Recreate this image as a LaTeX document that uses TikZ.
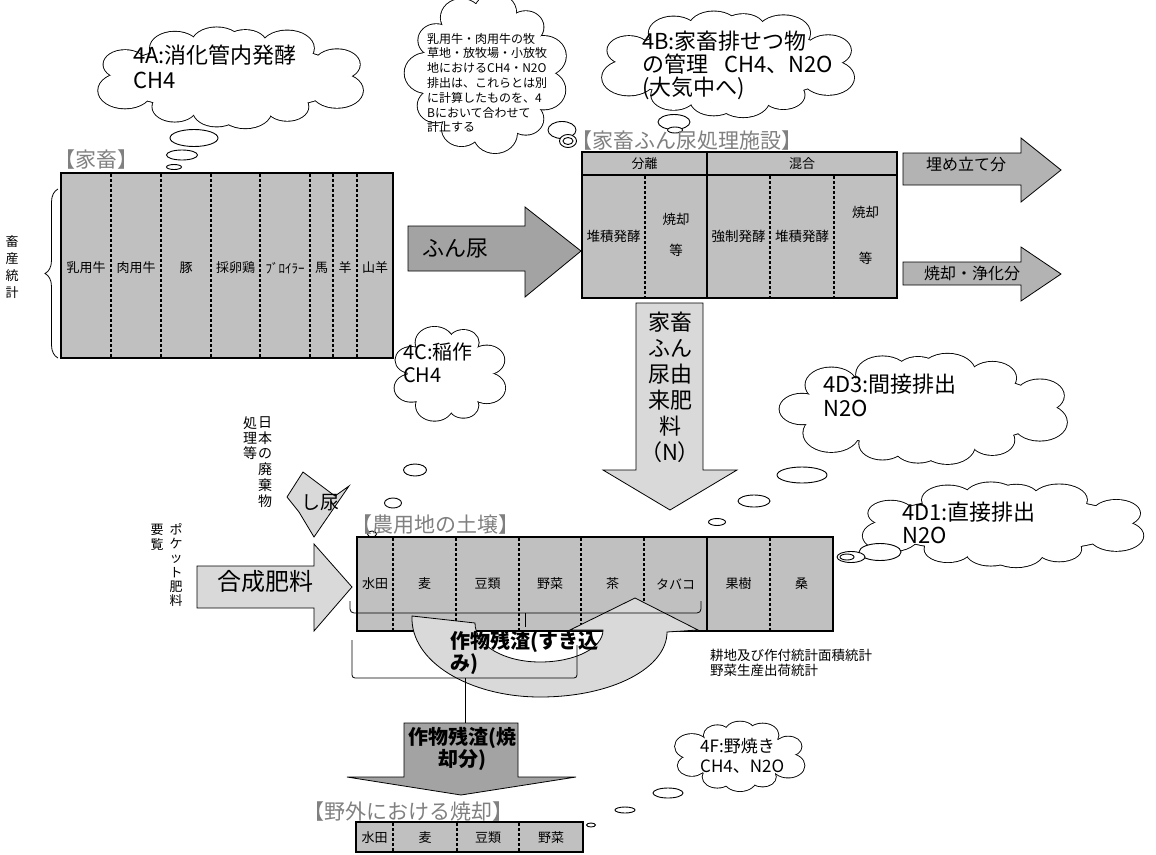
\documentclass[tikz,border=0pt]{standalone}
\usepackage{fontspec}
\setmainfont{Noto Sans CJK JP}
\usetikzlibrary{shapes.geometric,decorations.pathreplacing}
\definecolor{tgray}{HTML}{C0C0C0}
\definecolor{dgray}{HTML}{A3A3A3}
\definecolor{mgray}{HTML}{B3B3B3}
\definecolor{lgray}{HTML}{D9D9D9}
\definecolor{ttlgray}{HTML}{808080}
\newcommand{\jfs}[2]{\fontsize{#1}{#2}\selectfont}
% cloud: cx, cy, base rx, base ry, puffs, puff rx, puff ry
\newcommand{\puffcloud}[7]{%
  \pgfmathsetmacro{\cldwa}{28.648*(#3-#4)/(#3+#4)}%
  \foreach \cldk in {1,...,#5}{%
    \pgfmathsetmacro{\cldu}{(\cldk-0.5)*360/#5}%
    \pgfmathsetmacro{\cldt}{\cldu+\cldwa*sin(2*\cldu)}%
    \pgfmathsetmacro{\cldf}{1+0.12*sin(\cldk*137)}%
    \pgfmathsetmacro{\cldrx}{#6*\cldf}%
    \pgfmathsetmacro{\cldry}{#7*\cldf}%
    \pgfmathsetmacro{\cldx}{#1+#3*cos(\cldt)}%
    \pgfmathsetmacro{\cldy}{#2+#4*sin(\cldt)}%
    \draw[cloudstroke] (\cldx,\cldy) ellipse [x radius=\cldrx, y radius=\cldry];
  }%
  \draw[cloudstroke] (#1,#2) ellipse [x radius=#3, y radius=#4];
  \foreach \cldk in {1,...,#5}{%
    \pgfmathsetmacro{\cldu}{(\cldk-0.5)*360/#5}%
    \pgfmathsetmacro{\cldt}{\cldu+\cldwa*sin(2*\cldu)}%
    \pgfmathsetmacro{\cldf}{1+0.12*sin(\cldk*137)}%
    \pgfmathsetmacro{\cldrx}{#6*\cldf}%
    \pgfmathsetmacro{\cldry}{#7*\cldf}%
    \pgfmathsetmacro{\cldx}{#1+#3*cos(\cldt)}%
    \pgfmathsetmacro{\cldy}{#2+#4*sin(\cldt)}%
    \fill[cloudfill] (\cldx,\cldy) ellipse [x radius=\cldrx, y radius=\cldry];
  }%
  \fill[cloudfill] (#1,#2) ellipse [x radius=#3, y radius=#4];
}
\begin{document}
\begin{tikzpicture}[x=1pt,y=-1pt,
  tbl/.style={draw=black,line width=2pt,fill=tgray},
  dv/.style={line width=1.1pt,dash pattern=on 3pt off 2pt},
  sv/.style={line width=2pt},
  arrowshape/.style={draw=black,line width=0.8pt},
  cloudstroke/.style={draw=black,line width=1.8pt},
  cloudfill/.style={fill=white},
  bub/.style={ellipse,draw=black,line width=0.9pt,fill=white,inner sep=0pt},
  cell/.style={inner sep=0pt,font=\jfs{13}{15}},
  ttl/.style={inner sep=0pt,anchor=west,text=ttlgray,font=\jfs{21}{24}},
  ctext/.style={inner sep=0pt,anchor=west,align=left},
  vtext/.style={inner sep=0pt,align=center},
  thinl/.style={line width=0.8pt}
]
\useasboundingbox (0,0) rectangle (1156,854);

% ---------- clouds ----------
\puffcloud{231}{77.5}{115}{33.5}{12}{24}{16}
\coordinate (c4a) at (231,77.5);
\puffcloud{486.5}{73}{59.5}{61}{11}{20}{18}
\coordinate (cnote) at (486.5,73);
\puffcloud{728.5}{64}{107.5}{36}{12}{24}{16}
\coordinate (c4b) at (728.5,64);
\puffcloud{449}{374}{41.5}{33.5}{8}{17}{14}
\coordinate (c4c) at (449,374);
\puffcloud{925}{409}{123}{37}{13}{25}{17}
\coordinate (c4d3) at (925,409);
\puffcloud{1003.5}{524.5}{123.5}{27.5}{12}{25}{14}
\coordinate (c4d1) at (1003.5,524.5);
\puffcloud{740}{756}{53}{23}{10}{15}{11}
\coordinate (c4f) at (740,756);

\node[ctext,font=\jfs{22}{25}] (t4a) at (133,67) {4A:消化管内発酵\\CH4};
\node[ctext,font=\jfs{12}{14.8}] (tnote) at (427,83) {乳用牛・肉用牛の牧\\草地・放牧場・小放牧\\地におけるCH4・N2O\\排出は、これらとは別\\に計算したものを、4\\Bにおいて合わせて\\計上する};
\node[ctext,font=\jfs{22}{23}] (t4b) at (642,65) {4B:家畜排せつ物\\の管理\kern16pt CH4、N2O\\(大気中へ)};
\node[ctext,font=\jfs{20}{23}] (t4c) at (403,363) {4C:稲作\\CH4};
\node[ctext,font=\jfs{22}{24}] (t4d3) at (823,395) {4D3:間接排出\\N2O};
\node[ctext,font=\jfs{22}{23}] (t4d1) at (902,523) {4D1:直接排出\\N2O};
\node[ctext,font=\jfs{17}{20}] (t4f) at (700,756) {4F:野焼き\\CH4、N2O};

% ---------- bubbles ----------
\node[bub,minimum width=48pt,minimum height=17pt] (b4a1) at (194,138) {};
\node[bub,minimum width=31pt,minimum height=10pt] (b4a2) at (182,155) {};
\node[bub,minimum width=15pt,minimum height=5pt] (b4a3) at (174,167) {};
\node[bub,minimum width=28pt,minimum height=17pt] (bn1) at (562,130) {};
\node[bub,minimum width=17pt,minimum height=13pt] (bn2) at (568,141) {};
\node[bub,minimum width=10pt,minimum height=7pt] (bn3) at (568,141) {};
\node[bub,minimum width=32pt,minimum height=15pt] (b4b1) at (674,122) {};
\node[bub,minimum width=15pt,minimum height=6pt] (b4b2) at (675,130) {};
\node[bub,minimum width=23pt,minimum height=12pt] (b4c1) at (415,470) {};
\node[bub,minimum width=17pt,minimum height=10pt] (b4c2) at (393,503) {};
\node[bub,minimum width=9pt,minimum height=6pt] (b4c3) at (372,534) {};
\node[bub,minimum width=50pt,minimum height=16pt] (b4d31) at (802,475) {};
\node[bub,minimum width=32pt,minimum height=12pt] (b4d32) at (754,501) {};
\node[bub,minimum width=17pt,minimum height=7pt] (b4d33) at (717,522) {};
\node[bub,minimum width=42pt,minimum height=17pt] (b4d11) at (880,552) {};
\node[bub,minimum width=28pt,minimum height=11pt] (b4d12) at (851,557) {};
\node[bub,minimum width=14pt,minimum height=6pt] (b4d13) at (847,557) {};
\node[bub,minimum width=30pt,minimum height=10pt] (b4f1) at (668,793) {};
\node[bub,minimum width=20pt,minimum height=6pt] (b4f2) at (625,810) {};
\node[bub,minimum width=9pt,minimum height=4pt] (b4f3) at (591,825) {};

% ---------- livestock ----------
\node[ttl] (tl) at (54,160) {【家畜】};
\draw[tbl] (61,173) rectangle (393,358);
\foreach \x in {111,161,211,260,310,333,357} \draw[dv] (\x,174) -- (\x,357);
\node[cell] (l1) at (86,268) {乳用牛};
\node[cell] (l2) at (136,268) {肉用牛};
\node[cell] (l3) at (186,268) {豚};
\node[cell] (l4) at (235.5,268) {採卵鶏};
\node[cell] (l5) at (285,268) {ﾌﾞﾛｲﾗｰ};
\node[cell] (l6) at (321.5,268) {馬};
\node[cell] (l7) at (345,268) {羊};
\node[cell] (l8) at (375,268) {山羊};
\draw[thinl,decorate,decoration={brace,amplitude=13pt}] (58,358) -- (58,189);
\node[vtext,font=\jfs{13}{16.7}] (vt1) at (12,267) {畜\\産\\統\\計};

% ---------- manure arrow ----------
\draw[arrowshape,fill=dgray] (408,226) -- (525,226) -- (525,207) -- (581,251) -- (525,297) -- (525,271) -- (408,271) -- cycle;
\node[inner sep=0pt,font=\jfs{22}{24}] (afn) at (455,249) {ふん尿};

% ---------- facility ----------
\node[ttl] (tf) at (571,141) {【家畜ふん尿処理施設】};
\draw[tbl] (582,152) rectangle (897,298);
\draw[sv] (582,175) -- (897,175);
\draw[sv] (707,152) -- (707,298);
\foreach \x in {645,770,834} \draw[dv] (\x,176) -- (\x,297);
\node[cell] (fh1) at (644.5,163.5) {分離};
\node[cell] (fh2) at (802,163.5) {混合};
\node[cell,font=\jfs{13.5}{15}] (f1) at (613.5,236) {堆積発酵};
\node[cell,font=\jfs{13.5}{15}] (f2) at (676,219) {焼却};
\node[cell,font=\jfs{13.5}{15}] (f2b) at (676,250) {等};
\node[cell,font=\jfs{13.5}{15}] (f3) at (738.5,236) {強制発酵};
\node[cell,font=\jfs{13.5}{15}] (f4) at (802,236) {堆積発酵};
\node[cell,font=\jfs{13.5}{15}] (f5) at (865.5,212) {焼却};
\node[cell,font=\jfs{13.5}{15}] (f5b) at (865.5,258) {等};

\draw[arrowshape,fill=mgray] (903,153) -- (1021,153) -- (1021,138) -- (1061,170) -- (1021,202) -- (1021,185) -- (903,185) -- cycle;
\node[inner sep=0pt,font=\jfs{16}{18}] (aum) at (966,164) {埋め立て分};
\draw[arrowshape,fill=mgray] (903,262) -- (1021,262) -- (1021,247) -- (1061,274) -- (1021,301) -- (1021,285) -- (903,285) -- cycle;
\node[inner sep=0pt,font=\jfs{16}{18}] (ash) at (972,273) {焼却・浄化分};

% ---------- manure-derived fertilizer ----------
\draw[arrowshape,fill=lgray] (636,303) -- (703,303) -- (703,470) -- (737,470) -- (670,510) -- (603,470) -- (636,470) -- cycle;
\node[vtext,font=\jfs{22}{26}] (an) at (670,387) {家畜\\ふん\\尿由\\来肥\\料\\（N）};

% ---------- waste / fertilizer inputs ----------
\node[vtext,font=\jfs{14}{15.8}] (vt2) at (265,462) {日\\本\\の\\廃\\棄\\物};
\node[vtext,font=\jfs{14}{15}] (vt3) at (250,438) {処\\理\\等};
\draw[arrowshape,fill=lgray] (303,472) -- (335,496) -- (349,486) -- (314,537) -- (299,512) -- (287,497) -- cycle;
\node[inner sep=0pt,font=\jfs{19}{21}] (ash2) at (320,503) {し尿};

\node[vtext,font=\jfs{13}{14.2}] (vt4) at (176,565) {ポ\\ケ\\ッ\\ト\\肥\\料};
\node[vtext,font=\jfs{13}{15}] (vt5) at (157,537) {要\\覧};
\draw[arrowshape,fill=lgray] (197,566) -- (314,566) -- (314,544) -- (352,587) -- (314,631) -- (314,608) -- (197,608) -- cycle;
\node[inner sep=0pt,font=\jfs{24}{26}] (agf) at (265,581) {合成肥料};

% ---------- soil ----------
\node[ttl] (ts) at (351,525) {【農用地の土壌】};
\draw[tbl] (357,537) rectangle (833,631);
\foreach \x in {393,456,519,581,644,770} \draw[dv] (\x,538) -- (\x,630);
\draw[sv] (707,537) -- (707,631);
\node[cell] (s1) at (375,584) {水田};
\node[cell] (s2) at (424.5,584) {麦};
\node[cell] (s3) at (487.5,584) {豆類};
\node[cell] (s4) at (550,584) {野菜};
\node[cell] (s5) at (612.5,584) {茶};
\node[cell] (s6) at (675.5,584) {タバコ};
\node[cell] (s7) at (738.5,584) {果樹};
\node[cell] (s8) at (801.5,584) {桑};

% curved crop-residue arrow
\draw[arrowshape,fill=lgray] (412,616) .. controls (410,662) and (470,697) .. (540,697)
  .. controls (612,697) and (667,668) .. (667,632) -- (698,630) -- (635,598) -- (570,630) -- (603,630)
  .. controls (603,648) and (575,662) .. (540,662) .. controls (505,662) and (475,646) .. (475,623) -- cycle;

% brackets
\draw[thinl,rounded corners=4pt] (350,601) -- (350,613) -- (701,613) -- (701,601);
\draw[thinl] (525,613) -- (525,627);
\draw[thinl,rounded corners=3pt] (352,640) -- (352,678) -- (577,678) -- (577,645);
\coordinate (br2) at (465,678);
\coordinate (burntop) at (465,723);
\draw[thinl] (br2) -- (burntop);

\node[ctext,font=\bfseries\jfs{20}{22}] (tres) at (450,653) {作物残渣(すき込\\み)};
\node[ctext,font=\jfs{13.5}{15}] (tstat) at (710,662.5) {耕地及び作付統計面積統計\\野菜生産出荷統計};

% ---------- burning ----------
\draw[arrowshape,fill=dgray] (404,723) -- (518,723) -- (518,777) -- (576,777) -- (461,795) -- (347,777) -- (404,777) -- cycle;
\node[vtext,font=\bfseries\jfs{20}{22}] (abn) at (462,749) {作物残渣(焼\\却分)};
\node[ttl] (tb) at (303,812) {【野外における焼却】};
\draw[tbl] (356,822) rectangle (583,852);
\foreach \x in {393,457,519} \draw[dv] (\x,823) -- (\x,851);
\node[cell] (o1) at (374.5,838) {水田};
\node[cell] (o2) at (425,838) {麦};
\node[cell] (o3) at (488,838) {豆類};
\node[cell] (o4) at (551,838) {野菜};
\end{tikzpicture}
\end{document}
